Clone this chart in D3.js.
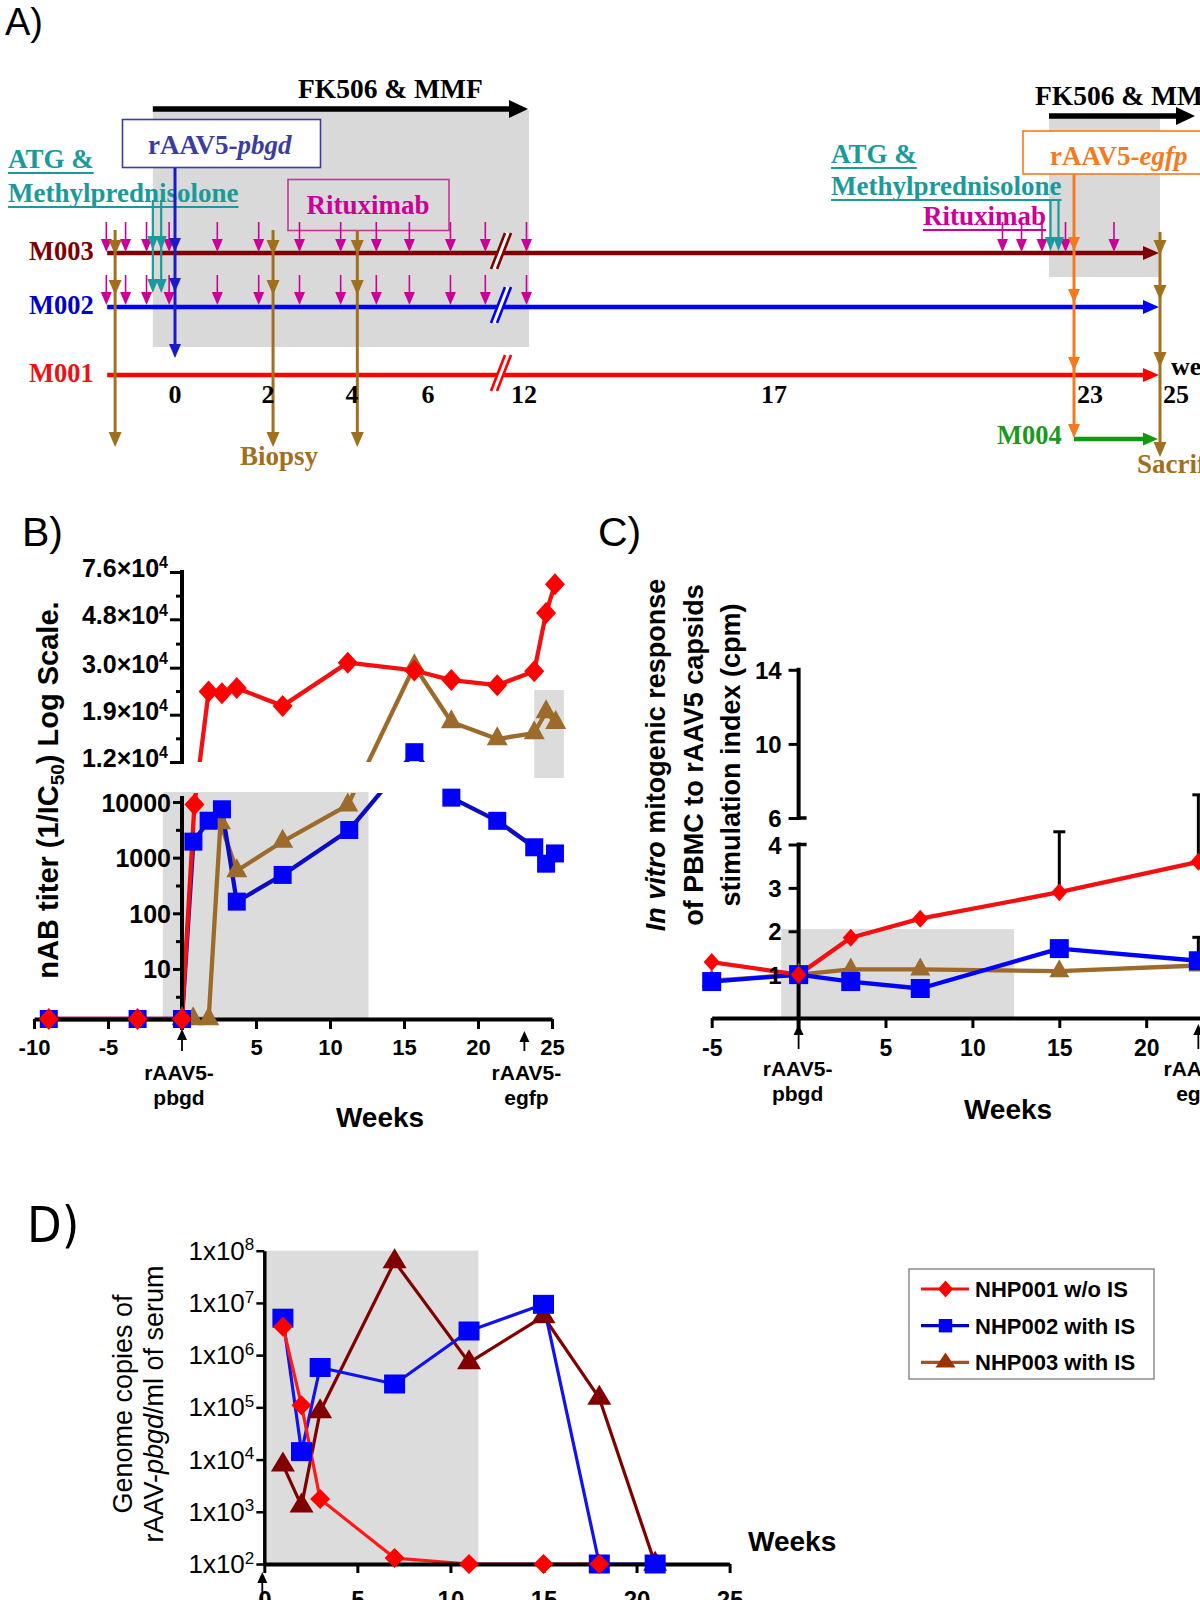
<!DOCTYPE html>
<html>
<head>
<meta charset="utf-8">
<script src="https://cdnjs.cloudflare.com/ajax/libs/d3/7.8.5/d3.min.js"></script>
<style>
  body { margin: 0; background: #fff; }
</style>
</head>
<body>
<script>

// ------------------------ DATA ------------------------

// panel A: treatment schedule, in schematic weeks (the drawn time axis is broken)
var scheduleTicks = [0, 2, 4, 6, 12, 17, 23, 25];
var rituxWeeks1 = [-1.64, -1.18, -0.68, -0.14, 0.91, 1.8, 2.75, 3.73, 4.64, 5.51, 7.7, 10.34, 12.05];
var rituxWeeks2 = [21.57, 21.95, 22.36, 22.83, 23.93];
var atgWeeks1 = [-0.53, -0.33];
var atgWeeks2 = [22.53, 22.69];
var biopsyWeeks = [-1.43, 2.12, 4.14];
var fkPeriods = [[-0.53, 12.1], [22.5, 25]];
var vectorWeeks = [0, 23];
var sacrificeWeek = 25;
var monkeys = ['M003', 'M002', 'M001'];

// panel B: neutralising antibody titre (1/IC50), 0 = not detectable
var nabWeeks001 = [-9, -3, 0, 0.84, 1.8, 2.7, 3.7, 6.8, 11.2, 15.7, 18.2, 21.3, 23.8, 24.6, 25.2];
var nab001 = [0, 0, 0, 9000, 23800, 23400, 24600, 20700, 31500, 29200, 26600, 25300, 29000, 51000, 67500];
var nabWeeks002 = [-9, -3, 0, 0.77, 1.8, 2.7, 3.7, 6.8, 11.3, 15.7, 18.2, 21.3, 23.8, 24.6, 25.2];
var nab002 = [0, 0, 0, 1940, 4610, 7400, 162, 489, 3140, 13200, 10200, 4590, 1535, 779, 1190];
var nabWeeks003 = [0, 0.75, 1.8, 2.6, 3.7, 6.8, 11.2, 15.7, 18.2, 21.3, 23.8, 24.6, 25.25];
var nab003 = [0, 0, 0, 4200, 580, 1950, 8800, 30500, 17700, 15000, 15900, 19500, 17600];
var nabLowTicks = [10, 100, 1000, 10000];
var nabLowMinor = [3.16, 31.6, 316, 3162];
var nabHighTicks = [12000, 19000, 30000, 48000, 76000];
var nabHighLabels = ['1.2', '1.9', '3.0', '4.8', '7.6'];
var nabHighMinor = [15100, 23900, 37900, 60400];

// panel C: stimulation index of PBMC to rAAV5 capsids
var lpaWeeks = [-5, 0, 3, 7, 15, 23];
var lpa001 = [1.29, 1.0, 1.85, 2.29, 2.9, 3.6];
var lpa001Err = [0, 0, 0, 0, 2.06, 3.65];
var lpa002 = [0.84, 1.0, 0.84, 0.68, 1.6, 1.32];
var lpa002Err = [0, 0, 0, 0, 0, 0.54];
var lpa003 = [0.86, 1.0, 1.12, 1.12, 1.08, 1.21];
var lpaTicks = [1, 2, 3, 4, 6, 10, 14];

// panel D: genome copies of rAAV-pbgd per ml of serum
var gcWeeks = [1, 2, 3, 7, 11, 15, 18, 21];
var gc001 = [3.5e6, 1.1e5, 1750, 130, 100, 100, 100, null];
var gc002 = [5.1e6, 1.42e4, 5.8e5, 2.8e5, 2.9e6, 9.4e6, 100, 100];
var gc003 = [7900, 1300, 8.3e4, 6.2e7, 7.2e5, 5.5e6, 1.5e5, 100];
var gcTicks = [1e2, 1e3, 1e4, 1e5, 1e6, 1e7, 1e8];
var nhpNames = ['NHP001 w/o IS', 'NHP002 with IS', 'NHP003 with IS'];

// ------------------------ SETUP ------------------------
var SANS = '"Liberation Sans", Arial, sans-serif';
var NARROW = '"Liberation Sans Narrow", "DejaVu Sans Condensed", sans-serif';
var SERIF = '"Liberation Serif", "Times New Roman", serif';
var GRAY = '#dcdcdc';

var svg = d3.select('body').append('svg')
  .attr('width', 1200)
  .attr('height', 1600)
  .style('font-family', SANS);

// marker shapes with a chosen width/height ratio, usable by d3.symbol
function boxType(r) {
  return { draw: function(ctx, size) {
    var h = Math.sqrt(size / r), w = h * r;
    ctx.rect(-w / 2, -h / 2, w, h);
  } };
}
function diamondType(r) {
  return { draw: function(ctx, size) {
    var h = Math.sqrt(size / r), w = h * r;
    ctx.moveTo(0, -h / 2); ctx.lineTo(w / 2, 0); ctx.lineTo(0, h / 2); ctx.lineTo(-w / 2, 0); ctx.closePath();
  } };
}
function triType(r) {
  return { draw: function(ctx, size) {
    var h = Math.sqrt(size / r), w = h * r;
    ctx.moveTo(0, -h * 2 / 3); ctx.lineTo(w / 2, h / 3); ctx.lineTo(-w / 2, h / 3); ctx.closePath();
  } };
}

// small drawing helpers
function seg(g, x1, y1, x2, y2, color, w) {
  return g.append('line').attr('x1', x1).attr('y1', y1).attr('x2', x2).attr('y2', y2)
    .attr('stroke', color).attr('stroke-width', w);
}
function headDown(g, x, tip, color, w, len) {
  g.append('path').attr('fill', color)
    .attr('d', 'M' + (x - w / 2) + ',' + (tip - len) + 'L' + (x + w / 2) + ',' + (tip - len) + 'L' + x + ',' + tip + 'Z');
}
function headRight(g, tip, y, color, w, len) {
  g.append('path').attr('fill', color)
    .attr('d', 'M' + (tip - len) + ',' + (y - w / 2) + 'L' + tip + ',' + y + 'L' + (tip - len) + ',' + (y + w / 2) + 'Z');
}
// vertical arrow with a head above every row it points at
function dropArrow(g, x, y1, tips, color, w, hw, hl) {
  seg(g, x, y1, x, tips[tips.length - 1] - hl + 2, color, w);
  tips.forEach(function(t) { headDown(g, x, t, color, hw, hl); });
}
function upArrow(g, x, tip, tail) {
  seg(g, x, tip + 8, x, tail, '#000', 1.8);
  g.append('path').attr('fill', '#000')
    .attr('d', 'M' + (x - 5) + ',' + (tip + 11) + 'L' + x + ',' + tip + 'L' + (x + 5) + ',' + (tip + 11) + 'Z');
}
function styleAxis(g, w, fs) {
  g.selectAll('.domain').attr('stroke', '#000').attr('stroke-width', w);
  g.selectAll('.tick line').attr('stroke', '#000').attr('stroke-width', w - 1);
  g.selectAll('.tick text').attr('fill', '#000')
    .style('font-size', fs + 'px').style('font-weight', 'bold').style('font-family', SANS);
}
function panelLabel(txt, x, y, fs, fam) {
  svg.append('text').attr('x', x).attr('y', y).text(txt)
    .style('font-size', fs + 'px').style('font-family', fam || SANS);
}

// ------------------------ PANEL A: SCHEDULE ------------------------
panelLabel('A)', 5, 35, 38);

var gA = svg.append('g');
var xA = d3.scaleLinear()
  .domain([-1.6, 0, 2, 4, 6, 11.3, 12, 17, 23, 25])
  .range([108, 175, 268, 352, 428, 498, 524, 774, 1074, 1160]);

var rowY = { M003: 253, M002: 307, M001: 375, M004: 439 };
var rowColor = { M003: '#800000', M002: '#0000ff', M001: '#ff0000' };
var rowText = { M003: '#800000', M002: '#0000cc', M001: '#ee1111' };
var TEAL = '#1a9a9a', MAG = '#cc0099', OCHRE = '#a0701e', ORANGE = '#f47a20';

// grey immunosuppression windows
gA.append('rect').attr('x', xA(fkPeriods[0][0])).attr('y', 110)
  .attr('width', xA(fkPeriods[0][1]) - xA(fkPeriods[0][0])).attr('height', 237).attr('fill', '#d9d9d9');
gA.append('rect').attr('x', xA(fkPeriods[1][0])).attr('y', 117)
  .attr('width', xA(fkPeriods[1][1]) - xA(fkPeriods[1][0])).attr('height', 160).attr('fill', '#d9d9d9');

// FK506 & MMF arrows
seg(gA, xA(fkPeriods[0][0]), 109, 512, 109, '#000', 5.5);
headRight(gA, 528, 109, '#000', 18, 19);
seg(gA, xA(fkPeriods[1][0]), 116, 1180, 116, '#000', 5.5);
headRight(gA, 1195, 116, '#000', 18, 19);
gA.append('text').attr('x', 298).attr('y', 98).text('FK506 & MMF')
  .style('font-family', SERIF).style('font-weight', 'bold').style('font-size', '27.5px');
gA.append('text').attr('x', 1035).attr('y', 105).text('FK506 & MMF')
  .style('font-family', SERIF).style('font-weight', 'bold').style('font-size', '27.5px');

// vector boxes
function vectorBox(x, y, w, h, color, gene, tx, ty) {
  gA.append('rect').attr('x', x).attr('y', y).attr('width', w).attr('height', h)
    .attr('fill', '#fff').attr('stroke', color).attr('stroke-width', 1.6);
  var t = gA.append('text').attr('x', tx).attr('y', ty).attr('fill', color)
    .style('font-family', SERIF).style('font-weight', 'bold').style('font-size', '27px');
  t.append('tspan').text('rAAV5-');
  t.append('tspan').style('font-style', 'italic').text(gene);
}
vectorBox(xA(vectorWeeks[0]) - 52.5, 119.5, 198, 48, '#3c3ca0', 'pbgd', 148, 154);
vectorBox(xA(vectorWeeks[1]) - 51, 131, 200, 43, ORANGE, 'egfp', 1050, 165);

// underlined drug labels
function drugLabel(x, y, txt, color) {
  var t = gA.append('text').attr('x', x).attr('y', y).text(txt).attr('fill', color)
    .style('font-family', SERIF).style('font-weight', 'bold').style('font-size', '27px');
  var w = t.node().getComputedTextLength();
  seg(gA, x, y + 5, x + w, y + 5, color, 2);
}
drugLabel(8, 168, 'ATG & ', TEAL);
drugLabel(8, 202, 'Methylprednisolone', TEAL);
drugLabel(831, 163, 'ATG & ', TEAL);
drugLabel(831, 195, 'Methylprednisolone', TEAL);
drugLabel(923, 225, 'Rituximab', MAG);

gA.append('rect').attr('x', 288).attr('y', 179.5).attr('width', 161).attr('height', 51)
  .attr('fill', 'none').attr('stroke', '#cc3399').attr('stroke-width', 1.6);
gA.append('text').attr('x', 368).attr('y', 214).attr('text-anchor', 'middle').text('Rituximab')
  .attr('fill', MAG).style('font-family', SERIF).style('font-weight', 'bold').style('font-size', '27px');

// timelines per monkey
monkeys.forEach(function(m) {
  var y = rowY[m];
  seg(gA, xA(-1.62), y, 1146, y, rowColor[m], 4.5);
  headRight(gA, 1159, y, rowColor[m], 14, 16);
  gA.append('text').attr('x', 29).attr('y', y + 7).text(m).attr('fill', rowText[m])
    .style('font-family', SERIF).style('font-weight', 'bold').style('font-size', '26.5px');
  // axis break on each line
  var bx = xA(11.3) + 3, by = y - 2;
  gA.append('line').attr('x1', bx - 7).attr('y1', by + 18).attr('x2', bx + 7).attr('y2', by - 18)
    .attr('stroke', '#fff').attr('stroke-width', 6);
  [-3, 3].forEach(function(o) {
    seg(gA, bx - 7 + o, by + 18, bx + 7 + o, by - 18, rowColor[m], 2.6);
  });
});

// rituximab doses (small magenta arrows)
function doseArrow(x, tip) {
  seg(gA, x, tip - 30, x, tip - 10, MAG, 1.6);
  headDown(gA, x, tip, MAG, 11, 13);
}
rituxWeeks1.forEach(function(w) {
  doseArrow(xA(w), rowY.M003 - 1);
  doseArrow(xA(w), rowY.M002 - 2);
});
rituxWeeks2.forEach(function(w) { doseArrow(xA(w), rowY.M003 - 1); });

// ATG & methylprednisolone
atgWeeks1.forEach(function(w) { dropArrow(gA, xA(w), 200, [250, 293], TEAL, 2.2, 11, 14); });
atgWeeks2.forEach(function(w) { dropArrow(gA, xA(w), 201, [251], TEAL, 2.2, 11, 14); });

// vector injections
dropArrow(gA, xA(vectorWeeks[0]), 168, [252, 292, 358], '#1a1acc', 3, 12, 14);
dropArrow(gA, xA(vectorWeeks[1]), 174, [251, 303, 371, 438], ORANGE, 3, 12, 14);

// biopsies and sacrifice
biopsyWeeks.forEach(function(w) { dropArrow(gA, xA(w), 230, [255, 295, 447], OCHRE, 3, 13, 15); });
dropArrow(gA, xA(sacrificeWeek), 232, [255, 300, 367, 457], OCHRE, 3, 13, 15);

// M004 (vector at week 23 only)
seg(gA, xA(23), rowY.M004, 1144, rowY.M004, '#119911', 4.5);
headRight(gA, 1158, rowY.M004, '#119911', 13, 15);
gA.append('text').attr('x', 997).attr('y', 444).text('M004').attr('fill', '#1a9a1a')
  .style('font-family', SERIF).style('font-weight', 'bold').style('font-size', '26.5px');

// week labels
gA.selectAll('.wk').data(scheduleTicks).enter().append('text')
  .attr('x', function(d) { return d >= 23 ? xA(d) + 3 : xA(d); })
  .attr('y', 403)
  .attr('text-anchor', function(d) { return d >= 23 ? 'start' : 'middle'; })
  .text(function(d) { return d; })
  .style('font-family', SERIF).style('font-weight', 'bold').style('font-size', '26px');
gA.append('text').attr('x', 1171).attr('y', 375).text('weeks')
  .style('font-family', SERIF).style('font-weight', 'bold').style('font-size', '26px');
gA.append('text').attr('x', 240).attr('y', 465).text('Biopsy').attr('fill', OCHRE)
  .style('font-family', SERIF).style('font-weight', 'bold').style('font-size', '27px');
gA.append('text').attr('x', 1137).attr('y', 473).text('Sacrifice').attr('fill', OCHRE)
  .style('font-family', SERIF).style('font-weight', 'bold').style('font-size', '27px');

// ------------------------ PANEL B: nAB TITERS ------------------------
panelLabel('B)', 22, 546, 41);

var gB = svg.append('g');
var xB = d3.scaleLinear().domain([-10, 25]).range([34, 552]);
// broken log axis: lower segment up to 1e4, upper segment from 1.2e4
var yB = d3.scaleLog().domain([1.26, 10000, 12000, 76000]).range([1019, 802, 762, 572]);
function yNab(v) { return yB(Math.max(v, 1.26)); }

var defs = svg.append('defs');
defs.append('clipPath').attr('id', 'clipUp').append('rect').attr('x', 0).attr('y', 540).attr('width', 600).attr('height', 222);
defs.append('clipPath').attr('id', 'clipLow').append('rect').attr('x', 0).attr('y', 793).attr('width', 600).attr('height', 300);
defs.append('clipPath').attr('id', 'clipLowMk').append('rect').attr('x', 0).attr('y', 782).attr('width', 600).attr('height', 300);

gB.append('rect').attr('x', xB(-1.3)).attr('y', 792).attr('width', xB(12.6) - xB(-1.3)).attr('height', 1019 - 792).attr('fill', GRAY);
gB.append('rect').attr('x', xB(23.8)).attr('y', 690).attr('width', xB(25.8) - xB(23.8)).attr('height', 88).attr('fill', GRAY);

var seriesB = [
  { weeks: nabWeeks003, vals: nab003, line: '#9c6b2c', fill: '#9c6b2c', type: triType(21 / 19), size: 21 * 19 },
  { weeks: nabWeeks002, vals: nab002, line: '#0c0cc4', fill: '#0000ff', type: boxType(1), size: 18 * 18 },
  { weeks: nabWeeks001, vals: nab001, line: '#f21010', fill: '#ff0000', type: diamondType(20 / 22), size: 20 * 22 }
];
var lineB = d3.line().x(function(d) { return xB(d[0]); }).y(function(d) { return yNab(d[1]); });

seriesB.forEach(function(s) {
  var pts = d3.zip(s.weeks, s.vals);
  ['clipUp', 'clipLow'].forEach(function(c) {
    gB.append('path').attr('clip-path', 'url(#' + c + ')').attr('d', lineB(pts))
      .attr('fill', 'none').attr('stroke', s.line).attr('stroke-width', 4.3).attr('stroke-linejoin', 'round');
  });
});

// axes
var axBx = gB.append('g').attr('transform', 'translate(0,1019)')
  .call(d3.axisBottom(xB).tickValues([-10, -5, 5, 10, 15, 20, 25]).tickSize(10).tickSizeOuter(0)
    .tickFormat(function(d) { return String(d); }));
styleAxis(axBx, 4, 22);
axBx.selectAll('.tick text').attr('dy', 0).attr('y', 36);

var axBlow = gB.append('g').attr('transform', 'translate(' + xB(0) + ',0)')
  .call(d3.axisLeft(yB).tickValues(nabLowTicks).tickSize(9).tickPadding(2).tickFormat(d3.format('d')));
axBlow.select('.domain').remove();
styleAxis(axBlow, 4, 25);
axBlow.selectAll('.tick text').attr('dy', '0.36em');

var axBlowMinor = gB.append('g').attr('transform', 'translate(' + xB(0) + ',0)')
  .call(d3.axisLeft(yB).tickValues(nabLowMinor).tickSize(6).tickFormat(''));
axBlowMinor.select('.domain').remove();
styleAxis(axBlowMinor, 4, 10);

var axBhigh = gB.append('g').attr('transform', 'translate(' + xB(0) + ',0)')
  .call(d3.axisLeft(yB).tickValues(nabHighTicks).tickSize(12).tickFormat(''));
axBhigh.select('.domain').remove();
styleAxis(axBhigh, 4, 10);
var axBhighMinor = gB.append('g').attr('transform', 'translate(' + xB(0) + ',0)')
  .call(d3.axisLeft(yB).tickValues(nabHighMinor).tickSize(6).tickFormat(''));
axBhighMinor.select('.domain').remove();
styleAxis(axBhighMinor, 4, 10);

seg(gB, xB(0), yB(76000) - 2, xB(0), yB(12000) + 2, '#000', 4);
seg(gB, xB(0), 796, xB(0), 1030, '#000', 4);

gB.selectAll('.hiLab').data(nabHighTicks).enter().append('text')
  .attr('x', xB(0) - 14)
  .attr('y', function(d) { return yB(d) + 5; })
  .attr('text-anchor', 'end')
  .style('font-weight', 'bold').style('font-size', '25px')
  .each(function(d, i) {
    var t = d3.select(this);
    t.append('tspan').text(nabHighLabels[i] + '\u00d710');
    t.append('tspan').attr('dy', '-0.55em').style('font-size', '16px').text('4');
  });

// markers
seriesB.forEach(function(s) {
  var sym = d3.symbol().type(s.type).size(s.size);
  ['clipUp', 'clipLowMk'].forEach(function(c) {
    gB.append('g').attr('clip-path', 'url(#' + c + ')')
      .selectAll('path').data(d3.zip(s.weeks, s.vals)).enter().append('path')
      .attr('d', sym)
      .attr('transform', function(d) { return 'translate(' + xB(d[0]) + ',' + yNab(d[1]) + ')'; })
      .attr('fill', s.fill);
  });
});

// vector injection arrows & labels
upArrow(gB, xB(vectorWeeks[0]), 1029, 1051);
upArrow(gB, xB(vectorWeeks[1]) + 2, 1031, 1051);
function injLabel(g, x, y1, gene) {
  g.append('text').attr('x', x).attr('y', y1).attr('text-anchor', 'middle').text('rAAV5-')
    .style('font-weight', 'bold').style('font-size', '21px');
  g.append('text').attr('x', x).attr('y', y1 + 25).attr('text-anchor', 'middle').text(gene)
    .style('font-weight', 'bold').style('font-size', '21px');
}
injLabel(gB, xB(0) - 3, 1080, 'pbgd');
injLabel(gB, xB(vectorWeeks[1]) + 4, 1080, 'egfp');
gB.append('text').attr('x', 380).attr('y', 1127).attr('text-anchor', 'middle').text('Weeks')
  .style('font-weight', 'bold').style('font-size', '28px');

var tB = gB.append('text').attr('transform', 'translate(58,790) rotate(-90)').attr('text-anchor', 'middle')
  .style('font-weight', 'bold').style('font-size', '29px');
tB.append('tspan').text('nAB titer (1/IC');
tB.append('tspan').attr('dy', '0.3em').style('font-size', '19px').text('50');
tB.append('tspan').attr('dy', '-0.2em').text(') Log Scale.');

// ------------------------ PANEL C: LYMPHOPROLIFERATION ------------------------
panelLabel('C)', 598, 546, 41);

var gC = svg.append('g');
var xC = d3.scaleLinear().domain([-5, 25]).range([711.7, 1233.1]);
// broken linear axis: 0-4 and 6-14
var yC = d3.scaleLinear().domain([0, 4, 6, 14]).range([1018, 844.5, 818, 669.8]);

gC.append('rect').attr('x', xC(-1)).attr('y', yC(2.05)).attr('width', xC(12.4) - xC(-1))
  .attr('height', yC(0) - yC(2.05)).attr('fill', GRAY);

var seriesC = [
  { vals: lpa003, err: null, line: '#9c6b2c', fill: '#9c6b2c', type: triType(20 / 18), size: 20 * 18 },
  { vals: lpa002, err: lpa002Err, line: '#0000ff', fill: '#0000ff', type: boxType(1), size: 19 * 19 },
  { vals: lpa001, err: lpa001Err, line: '#f21010', fill: '#ff0000', type: diamondType(16 / 18), size: 16 * 18 }
];
var lineC = d3.line().x(function(d) { return xC(d[0]); }).y(function(d) { return yC(d[1]); });
seriesC.forEach(function(s) {
  gC.append('path').attr('d', lineC(d3.zip(lpaWeeks, s.vals)))
    .attr('fill', 'none').attr('stroke', s.line).attr('stroke-width', 4.3).attr('stroke-linejoin', 'round');
});

var axCx = gC.append('g').attr('transform', 'translate(0,' + yC(0) + ')')
  .call(d3.axisBottom(xC).tickValues([-5, 5, 10, 15, 20, 25]).tickSize(10).tickSizeOuter(0)
    .tickFormat(function(d) { return String(d); }));
styleAxis(axCx, 4, 23);
axCx.selectAll('.tick text').attr('dy', 0).attr('y', 38);

var axCy = gC.append('g').attr('transform', 'translate(' + xC(0) + ',0)')
  .call(d3.axisLeft(yC).tickValues(lpaTicks).tickSize(10).tickPadding(7).tickFormat(d3.format('d')));
axCy.select('.domain').remove();
styleAxis(axCy, 4, 24);
axCy.selectAll('.tick text').attr('dy', '0.36em');
seg(gC, xC(0), yC(14) - 2, xC(0), yC(6) + 2, '#000', 4);
seg(gC, xC(0), yC(4) - 2, xC(0), yC(0) + 10, '#000', 4);
[4, 6].forEach(function(v) { seg(gC, xC(0), yC(v), xC(0) + 8, yC(v), '#000', 3.5); });

// upward error bars
seriesC.forEach(function(s) {
  if (!s.err) return;
  s.vals.forEach(function(v, i) {
    if (!s.err[i]) return;
    var x = xC(lpaWeeks[i]), top = yC(v + s.err[i]);
    seg(gC, x, yC(v), x, top, '#000', 3);
    seg(gC, x - 6, top, x + 6, top, '#000', 3);
  });
});

seriesC.forEach(function(s) {
  var sym = d3.symbol().type(s.type).size(s.size);
  gC.append('g').selectAll('path').data(d3.zip(lpaWeeks, s.vals)).enter().append('path')
    .attr('d', sym)
    .attr('transform', function(d) { return 'translate(' + xC(d[0]) + ',' + yC(d[1]) + ')'; })
    .attr('fill', s.fill);
});

upArrow(gC, xC(vectorWeeks[0]), 1024, 1049);
upArrow(gC, xC(vectorWeeks[1]), 1024, 1049);
injLabel(gC, xC(0) - 1, 1076, 'pbgd');
injLabel(gC, xC(vectorWeeks[1]), 1076, 'egfp');
gC.append('text').attr('x', 1008).attr('y', 1119).attr('text-anchor', 'middle').text('Weeks')
  .style('font-weight', 'bold').style('font-size', '28px');

var titleC = gC.append('g').attr('transform', 'translate(0,755)');
var c1 = titleC.append('text').attr('transform', 'translate(665,0) rotate(-90)').attr('text-anchor', 'middle')
  .style('font-weight', 'bold').style('font-size', '27px');
c1.append('tspan').style('font-style', 'italic').text('In vitro');
c1.append('tspan').text(' mitogenic response');
titleC.append('text').attr('transform', 'translate(702.5,0) rotate(-90)').attr('text-anchor', 'middle')
  .style('font-weight', 'bold').style('font-size', '27px').text('of PBMC to rAAV5 capsids');
titleC.append('text').attr('transform', 'translate(740,0) rotate(-90)').attr('text-anchor', 'middle')
  .style('font-weight', 'bold').style('font-size', '27px').text('stimulation index (cpm)');

// ------------------------ PANEL D: VECTOR GENOMES IN SERUM ------------------------
panelLabel('D)', 27, 1242, 50, NARROW);

var gD = svg.append('g');
var xD = d3.scaleLinear().domain([0, 25]).range([264.3, 729.6]);
var yD = d3.scaleLog().domain([100, 1e8]).range([1564, 1250.7]);

gD.append('rect').attr('x', xD(0.05)).attr('y', yD(1e8)).attr('width', xD(11.5) - xD(0.05))
  .attr('height', yD(100) - yD(1e8)).attr('fill', GRAY);

var seriesD = [
  { vals: gc003, line: '#800000', fill: '#800000', type: triType(24 / 20), size: 24 * 20, leg: '#a0522d', legFill: '#993300', legType: triType(20 / 15), legSize: 300 },
  { vals: gc002, line: '#1212ee', fill: '#0000ff', type: boxType(21 / 19), size: 21 * 19, leg: '#0000cc', legFill: '#0000ff', legType: boxType(1), legSize: 180 },
  { vals: gc001, line: '#ff1a1a', fill: '#ff0000', type: diamondType(1), size: 20 * 20, leg: '#ee1111', legFill: '#ff0000', legType: diamondType(15 / 17), legSize: 255 }
];
var lineD = d3.line()
  .defined(function(d) { return d[1] !== null; })
  .x(function(d) { return xD(d[0]); })
  .y(function(d) { return yD(d[1]); });
seriesD.forEach(function(s) {
  gD.append('path').attr('d', lineD(d3.zip(gcWeeks, s.vals)))
    .attr('fill', 'none').attr('stroke', s.line).attr('stroke-width', 3.2).attr('stroke-linejoin', 'round');
});

var axDx = gD.append('g').attr('transform', 'translate(0,' + yD(100) + ')')
  .call(d3.axisBottom(xD).tickValues([0, 5, 10, 15, 20, 25]).tickSize(9).tickSizeOuter(0));
styleAxis(axDx, 4, 24);
axDx.selectAll('.tick text').attr('dy', 0).attr('y', 44);
var axDy = gD.append('g').attr('transform', 'translate(' + xD(0) + ',0)')
  .call(d3.axisLeft(yD).tickValues(gcTicks).tickSize(8).tickSizeOuter(0).tickFormat(''));
styleAxis(axDy, 3.5, 10);
gD.selectAll('.gcLab').data(gcTicks).enter().append('text')
  .attr('x', xD(0) - 10)
  .attr('y', function(d) { return yD(d) + 9; })
  .attr('text-anchor', 'end')
  .style('font-size', '26px')
  .each(function(d) {
    var t = d3.select(this);
    t.append('tspan').text('1x10');
    t.append('tspan').attr('dy', '-0.55em').style('font-size', '17px').text(Math.round(Math.log10(d)));
  });

seriesD.forEach(function(s) {
  var sym = d3.symbol().type(s.type).size(s.size);
  gD.append('g').selectAll('path').data(d3.zip(gcWeeks, s.vals).filter(function(d) { return d[1] !== null; }))
    .enter().append('path')
    .attr('d', sym)
    .attr('transform', function(d) { return 'translate(' + xD(d[0]) + ',' + yD(d[1]) + ')'; })
    .attr('fill', s.fill);
});

upArrow(gD, xD(0) - 2, 1572, 1600);
gD.append('text').attr('x', 748).attr('y', 1551).text('Weeks')
  .style('font-weight', 'bold').style('font-size', '28px');

var tD = gD.append('g').attr('transform', 'translate(0,1404)');
tD.append('text').attr('transform', 'translate(132,0) rotate(-90)').attr('text-anchor', 'middle')
  .style('font-size', '27px').text('Genome copies of');
var tD2 = tD.append('text').attr('transform', 'translate(163,0) rotate(-90)').attr('text-anchor', 'middle')
  .style('font-size', '27px');
tD2.append('tspan').text('rAAV-');
tD2.append('tspan').style('font-style', 'italic').text('pbgd');
tD2.append('tspan').text('/ml of serum');

// legend
var leg = gD.append('g').attr('transform', 'translate(909,1269)');
leg.append('rect').attr('width', 245).attr('height', 110).attr('fill', '#fff')
  .attr('stroke', '#8c8c8c').attr('stroke-width', 1.5);
var legItems = [seriesD[2], seriesD[1], seriesD[0]];
legItems.forEach(function(s, i) {
  var y = 20 + i * 36.7;
  seg(leg, 12, y, 60, y, s.leg, 3.2);
  leg.append('path').attr('d', d3.symbol().type(s.legType).size(s.legSize)())
    .attr('transform', 'translate(36.5,' + y + ')').attr('fill', s.legFill);
  leg.append('text').attr('x', 66).attr('y', y + 8).text(nhpNames[i])
    .style('font-weight', 'bold').style('font-size', '22px');
});

</script>
</body>
</html>
